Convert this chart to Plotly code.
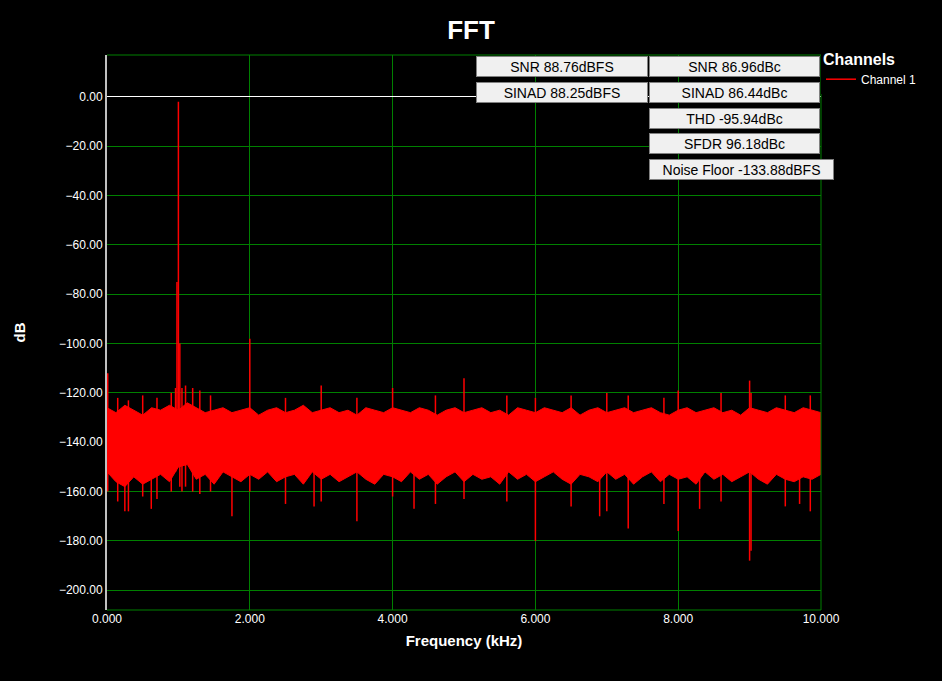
import plotly.graph_objects as go

# Noise band envelopes (dB), sampled every 0.125 kHz from 0 to 10 kHz
env_x = [i * 0.125 for i in range(81)]
env_top = [-126, -128, -125, -127, -129, -126, -127, -125, -127, -124, -126, -128, -127, -126, -128, -127,
           -126, -129, -127, -126, -128, -127, -125, -128, -127, -126, -128, -127, -129, -126, -127, -128,
           -126, -127, -128, -126, -127, -129, -127, -126, -128, -127, -126, -128, -127, -129, -126, -127,
           -128, -126, -127, -128, -126, -129, -127, -126, -128, -127, -126, -128, -127, -126, -128, -129,
           -127, -126, -128, -127, -126, -128, -127, -129, -126, -127, -128, -126, -127, -128, -126, -127, -128]
env_bot = [-152, -156, -158, -154, -157, -155, -153, -156, -150, -149, -155, -153, -157, -152, -154, -156,
           -153, -155, -152, -156, -154, -153, -157, -152, -155, -153, -156, -154, -152, -155, -157, -153,
           -154, -156, -152, -155, -153, -157, -154, -152, -156, -153, -155, -154, -157, -152, -155, -153,
           -156, -154, -152, -155, -157, -153, -154, -156, -152, -155, -153, -157, -154, -152, -156, -153,
           -155, -154, -157, -152, -155, -153, -156, -154, -152, -155, -157, -153, -155, -156, -154, -155, -153]

# Spikes: (frequency kHz, top dB, bottom dB)
spike_f = [0.01, 0.15, 0.3, 0.5, 0.7, 0.9, 0.96, 0.98, 1.0, 1.02, 1.05, 1.1, 1.2, 1.3, 1.45, 2.0, 2.5, 3.0,
           3.5, 4.0, 4.6, 5.0, 5.6, 6.0, 6.5, 7.0, 7.3, 7.8, 8.0, 8.6, 9.0, 9.02, 9.5, 9.85, 0.25, 1.75, 2.9,
           4.3, 6.9, 8.3, 9.7, 0.62]
spike_top = [-112, -122, -123, -121, -122, -120, -118, -75, -2, -100, -118, -117, -118, -119, -121, -98,
             -122, -117, -122, -118, -121, -114, -121, -122, -121, -120, -121, -122, -119, -120, -115, -120,
             -121, -121, -128, -128, -128, -128, -128, -128, -128, -128]
spike_bot = [-160, -164, -168, -162, -163, -160, -152, -150, -145, -158, -160, -158, -160, -161, -160, -160,
             -165, -164, -172, -162, -165, -163, -164, -180, -166, -168, -175, -165, -176, -164, -188, -184,
             -166, -168, -168, -170, -166, -167, -170, -167, -165, -167]

sx, sy = [], []
for f, t, b in zip(spike_f, spike_top, spike_bot):
    sx += [f, f, None]
    sy += [b, t, None]

red = "#ff0000"
fig = go.Figure()
fig.add_trace(go.Scatter(x=env_x, y=env_bot, mode="lines", line=dict(color=red, width=1),
                         showlegend=False, hoverinfo="skip", legendgroup="c"))
fig.add_trace(go.Scatter(x=env_x, y=env_top, mode="lines", line=dict(color=red, width=1), fill="tonexty",
                         fillcolor=red, showlegend=False, hoverinfo="skip", legendgroup="c"))
fig.add_trace(go.Scatter(x=sx, y=sy, mode="lines", line=dict(color=red, width=1.5), name="Channel 1",
                         legendgroup="c"))

W, H = 942, 681
L, R, T, B = 107, 821, 55, 610
def px(x): return (x - L) / (R - L)
def py(y): return (B - y) / (B - T)

boxes = [("SNR 88.76dBFS", 476, 648, 55, 78), ("SNR 86.96dBc", 649, 820, 55, 78),
         ("SINAD 88.25dBFS", 476, 648, 81, 104), ("SINAD 86.44dBc", 649, 820, 81, 104),
         ("THD -95.94dBc", 649, 820, 107, 130), ("SFDR 96.18dBc", 649, 820, 132, 155),
         ("Noise Floor -133.88dBFS", 649, 834, 158, 181)]
anns = []
for txt, x0, x1, y0, y1 in boxes:
    anns.append(dict(text=txt, xref="paper", yref="paper", x=px((x0 + x1) / 2), y=py((y0 + y1) / 2),
                     showarrow=False, width=x1 - x0 - 4, height=y1 - y0 - 6, bgcolor="#f0f0f0",
                     bordercolor="#808080", borderwidth=1, font=dict(color="black", size=14,
                     family="Liberation Sans"), xanchor="center", yanchor="middle"))

fig.update_layout(
    width=W, height=H, paper_bgcolor="black", plot_bgcolor="black",
    margin=dict(l=L, r=W - R, t=T, b=H - B),
    title=dict(text="<b>FFT</b>", x=0.5, xanchor="center", y=0.97, font=dict(color="white", size=26,
               family="Liberation Sans")),
    font=dict(family="Liberation Sans", color="white", size=12),
    xaxis=dict(range=[0, 10], dtick=2, tickformat=".3f", showgrid=True, gridcolor="#008000", gridwidth=1,
               zeroline=False, title=dict(text="<b>Frequency (kHz)</b>", font=dict(size=15), standoff=10),
               tickfont=dict(size=12, color="white"), ticks="", showline=False),
    yaxis=dict(range=[-208, 17], dtick=20, tickformat=".2f", showgrid=True, gridcolor="#008000",
               zeroline=True, zerolinecolor="white", zerolinewidth=1,
               title=dict(text="<b>dB</b>", font=dict(size=15), standoff=30),
               tickfont=dict(size=12, color="white"), ticks="", showline=True, linecolor="#c0c0c0",
               linewidth=2),
    legend=dict(x=1.0, y=1.02, xanchor="left", yanchor="top", bgcolor="black",
                title=dict(text="<b>Channels</b>", font=dict(size=16, color="white")),
                font=dict(size=12, color="white"), itemwidth=30),
    annotations=anns,
)
fig.add_shape(type="line", xref="paper", yref="paper", x0=0, x1=1, y0=1, y1=1, line=dict(color="#008000", width=1))
fig.add_shape(type="line", xref="paper", yref="paper", x0=1, x1=1, y0=0, y1=1, line=dict(color="#008000", width=1))
fig.add_shape(type="line", xref="paper", yref="paper", x0=0, x1=1, y0=0, y1=0, line=dict(color="#008000", width=1))
fig.write_html("out.html", post_script="document.body.style.margin='0';",
               config={"displayModeBar": False})
